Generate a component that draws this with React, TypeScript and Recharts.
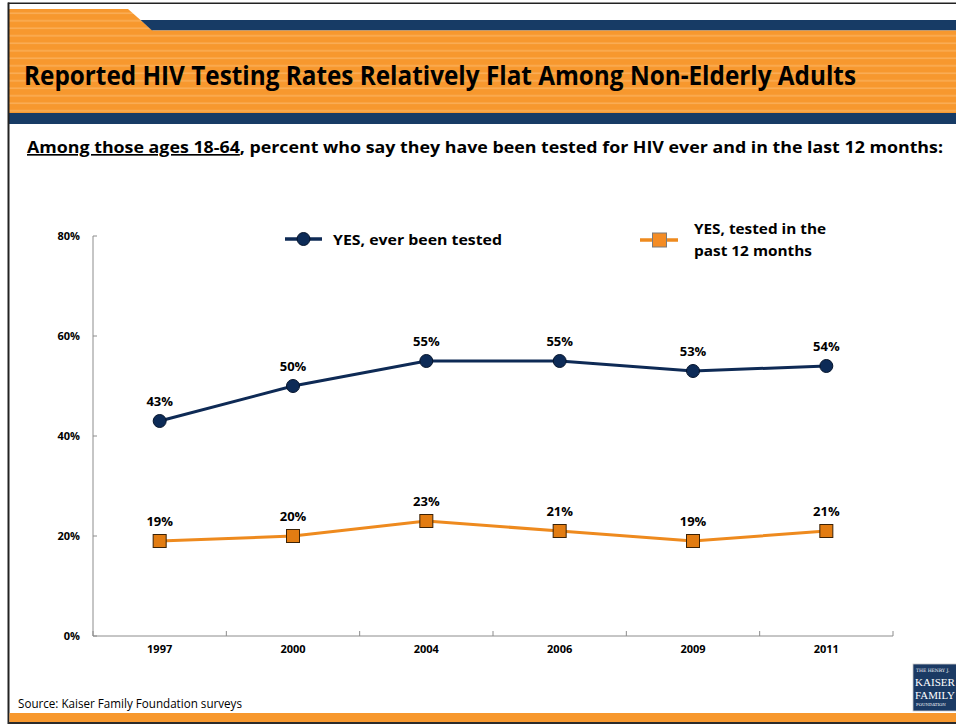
import { LineChart, Line, XAxis, YAxis, LabelList } from "recharts";

// values
const YEARS = ["1997", "2000", "2004", "2006", "2009", "2011"];
const EVER_TESTED = [43, 50, 55, 55, 53, 54];
const PAST_12_MONTHS = [19, 20, 23, 21, 19, 21];
const Y_TICKS = [0, 20, 40, 60, 80];
const EVER_LABEL = "YES, ever been tested";
const PAST_LABEL = ["YES, tested in the", "past 12 months"];

const TITLE = "Reported HIV Testing Rates Relatively Flat Among Non-Elderly Adults";
const SUB_UNDERLINED = "Among those ages 18-64";
const SUB_REST = ", percent who say they have been tested for HIV ever and in the last 12 months:";
const SOURCE = "Source: Kaiser Family Foundation surveys";

const FONT = "'Open Sans', 'Noto Sans', sans-serif";
const ORANGE = "#F7982E";
const ORANGE_LIGHT = "#FAAD55";
const NAVY = "#173B65";
const LINE_NAVY = "#0E2A55";
const LINE_ORANGE = "#EE8A1E";

const W = 956;
const H = 724;

// categories sit in the middle of each band, band edges carry tick marks
const data = YEARS.map((year, i) => ({
  year,
  pos: i + 0.5,
  ever: EVER_TESTED[i],
  past: PAST_12_MONTHS[i],
}));
const xTicks = Array.from({ length: YEARS.length * 2 + 1 }, (_, k) => k / 2);

function XTick(props: any) {
  const { x, y, payload } = props;
  const v = payload.value as number;
  if (Number.isInteger(v)) {
    return <line x1={x} x2={x} y1={y} y2={y - 5} stroke="#8c8c8c" strokeWidth={1} />;
  }
  return (
    <text x={x} y={y + 17} textAnchor="middle" fontFamily={FONT} fontSize={11} fontWeight={700} fill="#000">
      {YEARS[Math.floor(v)]}
    </text>
  );
}

function YTick(props: any) {
  const { x, y, payload } = props;
  return (
    <g>
      <line x1={x} x2={x + 4} y1={y} y2={y} stroke="#8c8c8c" strokeWidth={1} />
      <text x={x - 13} y={y + 4} textAnchor="end" fontFamily={FONT} fontSize={11} fontWeight={700} fill="#000">
        {`${payload.value}%`}
      </text>
    </g>
  );
}

function CircleDot(props: any) {
  const { cx, cy } = props;
  if (cx == null || cy == null) return null;
  return <circle cx={cx} cy={cy} r={6.5} fill="#0D2B57" stroke="#05142c" strokeWidth={1} />;
}

function SquareDot(props: any) {
  const { cx, cy } = props;
  if (cx == null || cy == null) return null;
  return <rect x={cx - 6.5} y={cy - 6.5} width={13} height={13} fill="#E27C12" stroke="#3b2206" strokeWidth={1} />;
}

const labelProps = {
  position: "top" as const,
  offset: 15,
  formatter: (v: any) => `${v}%`,
  fill: "#000",
  fontSize: 13,
  fontWeight: 700,
  fontFamily: FONT,
};

function Decorations() {
  return (
    <svg width={W} height={H} style={{ position: "absolute", left: 0, top: 0 }}>
      <defs>
        <pattern id="stripes" width={8} height={7.5} patternUnits="userSpaceOnUse">
          <rect width={8} height={7.5} fill={ORANGE} />
          <rect y={5} width={8} height={1.6} fill={ORANGE_LIGHT} />
        </pattern>
      </defs>
      {/* header band */}
      <polygon points="9,9 128,9 153,31 9,31" fill="url(#stripes)" />
      <polygon points="140.5,20 956,20 956,30.5 152,30.5" fill={NAVY} />
      <rect x={9} y={30.5} width={W - 9} height={82.5} fill="url(#stripes)" />
      <rect x={9} y={113} width={W - 9} height={11} fill={NAVY} />
      <text x={24} y={85} fontFamily={FONT} fontSize={27} fontWeight={700} fill="#000" textLength={832} lengthAdjust="spacingAndGlyphs">
        {TITLE}
      </text>

      {/* frame */}
      <rect x={8} y={2.5} width={W - 8} height={1.5} fill="#222" />
      <rect x={7.5} y={2.5} width={2} height={H} fill="#222" />

      {/* subtitle */}
      <text x={27} y={153} fontFamily={FONT} fontSize={16.5} fontWeight={700} fill="#000" textLength={916} lengthAdjust="spacingAndGlyphs">
        <tspan style={{ textDecoration: "underline" }}>{SUB_UNDERLINED}</tspan>
        <tspan>{SUB_REST}</tspan>
      </text>

      {/* legend */}
      <line x1={285} x2={322} y1={239} y2={239} stroke={LINE_NAVY} strokeWidth={3.5} />
      <circle cx={303.5} cy={239} r={6.5} fill="#0D2B57" stroke="#05142c" strokeWidth={1} />
      <text x={333} y={245} fontFamily={FONT} fontSize={15} fontWeight={700} fill="#000" textLength={169} lengthAdjust="spacingAndGlyphs">
        {EVER_LABEL}
      </text>
      <line x1={640} x2={678} y1={240} y2={240} stroke={LINE_ORANGE} strokeWidth={3.5} />
      <rect x={652.5} y={233} width={14} height={14} fill="#F48C24" stroke="#7a7a7a" strokeWidth={1} />
      <text x={694} y={234} fontFamily={FONT} fontSize={15} fontWeight={700} fill="#000" textLength={132} lengthAdjust="spacingAndGlyphs">
        {PAST_LABEL[0]}
      </text>
      <text x={694} y={256} fontFamily={FONT} fontSize={15} fontWeight={700} fill="#000" textLength={118} lengthAdjust="spacingAndGlyphs">
        {PAST_LABEL[1]}
      </text>

      {/* source + footer */}
      <text x={18} y={708} fontFamily={FONT} fontSize={12} fill="#000" textLength={224} lengthAdjust="spacingAndGlyphs">
        {SOURCE}
      </text>
      <rect x={9.5} y={713} width={W - 9.5} height={9} fill={ORANGE} />
      <rect x={8} y={722} width={W - 8} height={2} fill="#2b2b2b" />

      {/* logo */}
      <rect x={913} y={664} width={50} height={47} fill="#1B3A64" stroke="#c8c8c8" strokeWidth={0.8} />
      <text x={916} y={672} fontFamily="'DejaVu Serif', serif" fontSize={4.5} fill="#fff">THE HENRY J.</text>
      <text x={915} y={686} fontFamily="'Liberation Serif', serif" fontSize={11} fill="#fff" textLength={40} lengthAdjust="spacingAndGlyphs">KAISER</text>
      <text x={915} y={699} fontFamily="'Liberation Serif', serif" fontSize={11} fill="#fff" textLength={40} lengthAdjust="spacingAndGlyphs">FAMILY</text>
      <text x={916} y={706} fontFamily="'DejaVu Serif', serif" fontSize={4} fill="#fff">FOUNDATION</text>
    </svg>
  );
}

export default function App() {
  return (
    <div style={{ position: "absolute", left: 0, top: 0, width: W, height: H, background: "#fff", overflow: "hidden" }}>
      <Decorations />
      <div style={{ position: "absolute", left: 0, top: 0 }}>
        <LineChart width={W} height={H} data={data} margin={{ top: 236, right: 63, bottom: 58, left: 0 }}>
          <XAxis
            dataKey="pos"
            type="number"
            domain={[0, YEARS.length]}
            ticks={xTicks}
            interval={0}
            height={30}
            tickLine={false}
            tickSize={0}
            tickMargin={0}
            tick={<XTick />}
            axisLine={{ stroke: "#8c8c8c", strokeWidth: 1 }}
          />
          <YAxis
            domain={[0, 80]}
            ticks={Y_TICKS}
            width={93}
            tickLine={false}
            tickSize={0}
            tickMargin={0}
            tick={<YTick />}
            axisLine={{ stroke: "#8c8c8c", strokeWidth: 1 }}
          />
          <Line
            dataKey="ever"
            name={EVER_LABEL}
            stroke={LINE_NAVY}
            strokeWidth={3}
            dot={<CircleDot />}
            activeDot={false}
            isAnimationActive={false}
          >
            <LabelList dataKey="ever" {...labelProps} />
          </Line>
          <Line
            dataKey="past"
            name={PAST_LABEL.join(" ")}
            stroke={LINE_ORANGE}
            strokeWidth={3}
            dot={<SquareDot />}
            activeDot={false}
            isAnimationActive={false}
          >
            <LabelList dataKey="past" {...labelProps} />
          </Line>
        </LineChart>
      </div>
    </div>
  );
}
